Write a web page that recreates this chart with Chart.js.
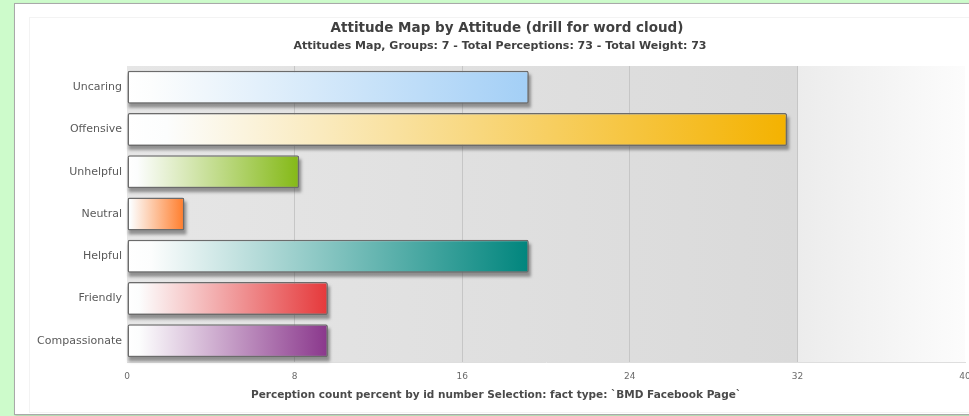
<!DOCTYPE html>
<html>
<head>
<meta charset="utf-8">
<script src="https://cdn.jsdelivr.net/npm/chart.js@4.4.1/dist/chart.umd.min.js"></script>
<style>
  html, body { margin: 0; padding: 0; }
  body { width: 969px; height: 416px; background: #cdfbcb; position: relative; overflow: hidden; }
  #panel {
    position: absolute; left: 14px; top: 3px; width: 990px; height: 410px;
    background: #ffffff; border: 1px solid #a9a9a9;
    box-shadow: 1px 1px 2px rgba(0,0,0,0.18);
  }
  #inner {
    position: absolute; left: 29px; top: 17px; width: 980px; height: 394px;
    border: 1px solid #f3f3f3;
  }
  #wrap { position: absolute; left: 0; top: 0; width: 990px; height: 416px; }
</style>
</head>
<body>
<div id="panel"></div>
<div id="inner"></div>
<div id="wrap"><canvas id="chart" width="990" height="416"></canvas></div>
<script>
// Attitude categories and their share of the 73 perceptions (percent)
const categories = ['Uncaring', 'Offensive', 'Unhelpful', 'Neutral', 'Helpful', 'Friendly', 'Compassionate'];
const percentValues = [19.18, 31.51, 8.22, 2.74, 19.18, 9.59, 9.59];
const barColors = ['#a3cff6', '#f4b200', '#84b916', '#ff7c2a', '#00857d', '#e5383a', '#8a378c'];
const xTicks = [0, 8, 16, 24, 32, 40];

const titleText = 'Attitude Map by Attitude (drill for word cloud)';
const subtitleText = 'Attitudes Map, Groups: 7 - Total Perceptions: 73 - Total Weight: 73';
const xCaption = 'Perception count percent by id number Selection: fact type: `BMD Facebook Page`';

// Plot background: grey field that lightens towards white in the last band
const plotBackground = {
  id: 'plotBackground',
  beforeDraw(chart) {
    const { ctx, chartArea: a, scales } = chart;
    const split = scales.x.getPixelForValue(32);
    ctx.save();
    const g1 = ctx.createLinearGradient(a.left, 0, split, 0);
    g1.addColorStop(0, '#e6e6e6');
    g1.addColorStop(1, '#dadada');
    ctx.fillStyle = g1;
    ctx.fillRect(a.left, a.top, split - a.left, a.bottom - a.top);
    const g2 = ctx.createLinearGradient(split, 0, a.right, 0);
    g2.addColorStop(0, '#ececec');
    g2.addColorStop(1, '#fcfcfc');
    ctx.fillStyle = g2;
    ctx.fillRect(split, a.top, a.right - split, a.bottom - a.top);
    ctx.restore();
  }
};

// Soft grey shadow offset beneath each bar, taken from the bar elements
const barShadow = {
  id: 'barShadow',
  beforeDatasetsDraw(chart) {
    const ctx = chart.ctx;
    const meta = chart.getDatasetMeta(0);
    ctx.save();
    ctx.filter = 'blur(1.5px)';
    ctx.fillStyle = 'rgba(60,60,60,0.5)';
    meta.data.forEach((bar) => {
      const { x, y, base, height } = bar.getProps(['x', 'y', 'base', 'height'], true);
      ctx.fillRect(base + 1, y - height / 2 + 4, x - base + 1, height);
    });
    ctx.restore();
  }
};

// Chart heading, sub-heading and axis caption
const captions = {
  id: 'captions',
  afterDraw(chart) {
    const ctx = chart.ctx;
    ctx.save();
    ctx.textAlign = 'center';
    ctx.textBaseline = 'middle';
    ctx.fillStyle = '#404040';
    ctx.font = 'bold 13.5px "DejaVu Sans"';
    ctx.fillText(titleText, 507, 28);
    ctx.font = 'bold 11px "DejaVu Sans"';
    ctx.fillText(subtitleText, 500, 46);
    ctx.fillStyle = '#4a4a4a';
    ctx.font = 'bold 10.5px "DejaVu Sans"';
    ctx.fillText(xCaption, 496, 395);
    ctx.restore();
  }
};

function barGradient(context) {
  const chart = context.chart;
  const color = barColors[context.dataIndex];
  if (!chart.chartArea || context.type !== 'data') return color;
  const x = chart.scales.x;
  const x0 = x.getPixelForValue(0);
  const x1 = x.getPixelForValue(context.raw);
  const g = chart.ctx.createLinearGradient(x0, 0, x1, 0);
  g.addColorStop(0, '#ffffff');
  g.addColorStop(0.06, '#fcfdfd');
  g.addColorStop(1, color);
  return g;
}

new Chart(document.getElementById('chart'), {
  type: 'bar',
  data: {
    labels: categories,
    datasets: [{
      data: percentValues,
      backgroundColor: barGradient,
      borderColor: '#6b6b6b',
      borderWidth: 1.5,
      borderRadius: 2,
      borderSkipped: false,
      barPercentage: 0.78,
      categoryPercentage: 1.0
    }]
  },
  options: {
    indexAxis: 'y',
    responsive: false,
    animation: false,
    layout: { padding: { left: 15, right: 25, top: 66, bottom: 0 } },
    plugins: {
      legend: { display: false },
      tooltip: { enabled: false },
      title: { display: false },
      subtitle: { display: false }
    },
    scales: {
      x: {
        min: 0,
        max: 40,
        afterBuildTicks(scale) { scale.ticks = xTicks.map(v => ({ value: v })); },
        afterFit(scale) { scale.height = 54; },
        grid: {
          drawTicks: false,
          color: (c) => (c.tick && (c.tick.value === 0 || c.tick.value === 40)) ? 'rgba(0,0,0,0)' : '#c6c6c6',
          lineWidth: 1
        },
        border: { display: true, color: '#dedede' },
        ticks: {
          color: '#6a6a6a',
          font: { family: 'DejaVu Sans', size: 9 },
          padding: 9,
          maxRotation: 0,
          autoSkip: false
        }
      },
      y: {
        afterFit(scale) { scale.width = 112; },
        grid: { display: false, drawTicks: false },
        border: { display: false },
        ticks: {
          color: '#5a5a5a',
          font: { family: 'DejaVu Sans', size: 11 },
          padding: 5
        }
      }
    }
  },
  plugins: [plotBackground, barShadow, captions]
});
</script>
</body>
</html>
